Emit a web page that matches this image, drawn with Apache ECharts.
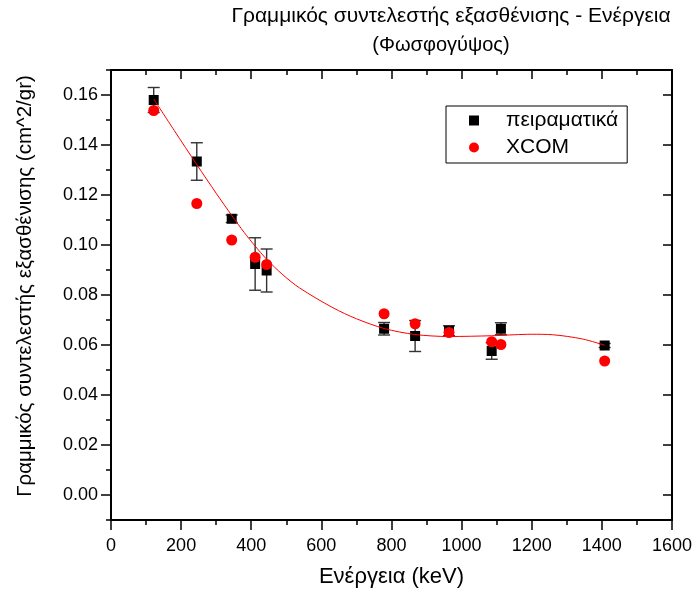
<!DOCTYPE html>
<html>
<head>
<meta charset="utf-8">
<title>Γραμμικός συντελεστής εξασθένισης - Ενέργεια</title>
<script src="https://cdn.jsdelivr.net/npm/echarts@6/dist/echarts.min.js"></script>
<style>
  html, body { margin: 0; padding: 0; background: #fff; }
  #chart { width: 695px; height: 593px; }
</style>
</head>
<body>
<div id="chart"></div>
<script>
// Photon energies (keV) of the measured lines
const energy = [121.8, 244.7, 344.3, 411.1, 443.9, 778.9, 867.4, 964.1, 1085.8, 1112.1, 1408.0];
// Measured linear attenuation coefficient and its uncertainty
const expMu  = [0.1580, 0.1334, 0.1105, 0.0924, 0.0898, 0.0665, 0.0636, 0.0657, 0.0576, 0.0665, 0.0598];
const expErr = [0.0050, 0.0075, 0.0015, 0.0105, 0.0086, 0.0025, 0.0062, 0.0020, 0.0033, 0.0024, 0.0008];
// XCOM reference values
const xcomMu = [0.1538, 0.1166, 0.1020, 0.0951, 0.0922, 0.0725, 0.0685, 0.0650, 0.0613, 0.0602, 0.0536];
// Fitted trend through the measurements
const fitE  = [121.8, 180, 245, 300, 345, 380, 411, 444, 490, 538, 633, 700, 779, 867, 964, 1086, 1150, 1200, 1260, 1345, 1408];
const fitMu = [0.1584, 0.1459, 0.1321, 0.1207, 0.1117, 0.1050, 0.0996, 0.0943, 0.0881, 0.0828, 0.0749, 0.0705, 0.0666, 0.0642, 0.0634, 0.0637, 0.0641, 0.0643, 0.0641, 0.0624, 0.0599];
// Axis ticks
const yMajorTicks = [0.00, 0.02, 0.04, 0.06, 0.08, 0.10, 0.12, 0.14, 0.16];
const yMinorTicks = [-0.01, 0.01, 0.03, 0.05, 0.07, 0.09, 0.11, 0.13, 0.15, 0.17];

const FONT = '"Liberation Sans", Arial, sans-serif';

const chart = echarts.init(document.getElementById('chart'), null, { renderer: 'canvas' });

const expData = energy.map((e, i) => [e, expMu[i]]);
const errData = energy.map((e, i) => [e, expMu[i], expErr[i]]);
const xcomData = energy.map((e, i) => [e, xcomMu[i]]);
const fitData = fitE.map((e, i) => [e, fitMu[i]]);

const axisLineStyle = { color: '#000', width: 2 };
const tickLineStyle = { color: '#000', width: 1.5 };

const yBase = {
  type: 'value', min: -0.01, max: 0.17, splitLine: { show: false }
};

const option = {
  animation: false,
  backgroundColor: '#fff',
  textStyle: { fontFamily: FONT },
  title: [
    {
      text: 'Γραμμικός συντελεστής εξασθένισης - Ενέργεια',
      left: 451, top: 6, textAlign: 'center', padding: 0,
      textStyle: { fontFamily: FONT, fontSize: 21, fontWeight: 'normal', color: '#000' }
    },
    {
      text: '(Φωσφογύψος)',
      left: 441, top: 35, textAlign: 'center', padding: 0,
      textStyle: { fontFamily: FONT, fontSize: 20, fontWeight: 'normal', color: '#000' }
    }
  ],
  legend: {
    data: ['πειραματικά', 'XCOM'],
    orient: 'vertical',
    left: 446, top: 106,
    padding: [4, 9, 5, 23],
    itemGap: 6,
    itemWidth: 10, itemHeight: 10,
    borderColor: '#000', borderWidth: 1,
    backgroundColor: '#fff',
    selectedMode: false,
    textStyle: { fontFamily: FONT, fontSize: 21, color: '#000', lineHeight: 21, padding: [0, 0, 0, 22] }
  },
  grid: { left: 111, right: 22, top: 70, bottom: 72 },
  xAxis: [
    {
      type: 'value', position: 'bottom', min: 0, max: 1600, interval: 200,
      name: 'Ενέργεια (keV)', nameLocation: 'middle', nameGap: 46,
      nameTextStyle: { fontFamily: FONT, fontSize: 22, color: '#000' },
      axisLine: { show: true, onZero: false, lineStyle: axisLineStyle },
      axisTick: { show: true, inside: false, length: 10, lineStyle: tickLineStyle },
      minorTick: { show: true, splitNumber: 2, length: 5, lineStyle: tickLineStyle },
      axisLabel: { margin: 17, fontFamily: FONT, fontSize: 18, color: '#000', formatter: v => String(v) },
      splitLine: { show: false }
    },
    {
      type: 'value', position: 'top', min: 0, max: 1600, interval: 200,
      axisLine: { show: true, onZero: false, lineStyle: axisLineStyle },
      axisTick: { show: true, inside: true, length: 9, lineStyle: tickLineStyle },
      minorTick: { show: true, splitNumber: 2, length: 5, lineStyle: tickLineStyle },
      axisLabel: { show: false },
      splitLine: { show: false }
    }
  ],
  yAxis: [
    Object.assign({}, yBase, {
      position: 'left',
      name: 'Γραμμικός συντελεστής εξασθένισης (cm^2/gr)', nameLocation: 'middle', nameGap: 75,
      nameTextStyle: { fontFamily: FONT, fontSize: 20.5, color: '#000', padding: [0, 0, 0, 18] },
      axisLine: { show: true, onZero: false, lineStyle: axisLineStyle },
      axisTick: { show: true, inside: false, length: 10, lineStyle: tickLineStyle, customValues: yMajorTicks },
      axisLabel: {
        margin: 13, fontFamily: FONT, fontSize: 18, color: '#000',
        customValues: yMajorTicks, formatter: v => v.toFixed(2)
      }
    }),
    Object.assign({}, yBase, {
      position: 'left',
      axisLine: { show: false },
      axisTick: { show: true, inside: false, length: 5, lineStyle: tickLineStyle, customValues: yMinorTicks },
      axisLabel: { show: false }
    }),
    Object.assign({}, yBase, {
      position: 'right',
      axisLine: { show: true, onZero: false, lineStyle: axisLineStyle },
      axisTick: { show: true, inside: true, length: 9, lineStyle: tickLineStyle, customValues: yMajorTicks },
      axisLabel: { show: false }
    }),
    Object.assign({}, yBase, {
      position: 'right',
      axisLine: { show: false },
      axisTick: { show: true, inside: true, length: 5, lineStyle: tickLineStyle, customValues: yMinorTicks },
      axisLabel: { show: false }
    })
  ],
  series: [
    {
      name: 'errors',
      type: 'custom',
      xAxisIndex: 0, yAxisIndex: 0,
      z: 1,
      encode: { x: 0, y: 1 },
      data: errData,
      renderItem: function (params, api) {
        const x = api.value(0), y = api.value(1), e = api.value(2);
        const top = api.coord([x, y + e]);
        const bot = api.coord([x, y - e]);
        const cap = 6;
        const style = { stroke: '#333', lineWidth: 1.4, fill: null };
        return {
          type: 'group',
          children: [
            { type: 'line', shape: { x1: top[0], y1: top[1], x2: bot[0], y2: bot[1] }, style },
            { type: 'line', shape: { x1: top[0] - cap, y1: top[1], x2: top[0] + cap, y2: top[1] }, style },
            { type: 'line', shape: { x1: bot[0] - cap, y1: bot[1], x2: bot[0] + cap, y2: bot[1] }, style }
          ]
        };
      }
    },
    {
      name: 'πειραματικά',
      type: 'scatter',
      xAxisIndex: 0, yAxisIndex: 0,
      z: 2,
      symbol: 'rect', symbolSize: 10,
      itemStyle: { color: '#000', opacity: 1 },
      data: expData
    },
    {
      name: 'XCOM',
      type: 'scatter',
      xAxisIndex: 0, yAxisIndex: 0,
      z: 3,
      symbol: 'circle', symbolSize: 11,
      itemStyle: { color: '#ff0000', opacity: 1 },
      data: xcomData
    },
    {
      name: 'fit',
      type: 'line',
      xAxisIndex: 0, yAxisIndex: 0,
      z: 4,
      smooth: 0.3,
      showSymbol: false, symbol: 'none',
      lineStyle: { color: '#ff0000', width: 1 },
      data: fitData
    }
  ]
};

chart.setOption(option);
</script>
</body>
</html>
